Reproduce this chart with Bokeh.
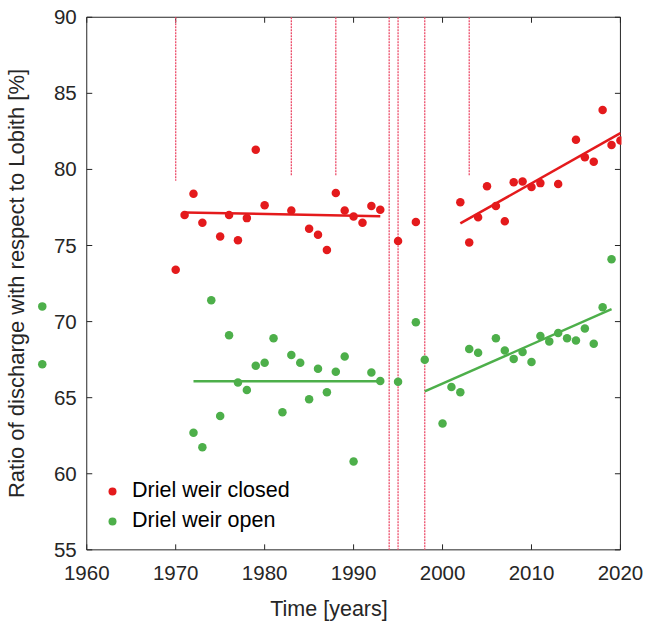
from bokeh.plotting import figure
from bokeh.models import LinearAxis, FixedTicker, Range1d, Legend, LegendItem
from bokeh.embed import file_html
from bokeh.resources import INLINE

# ---- data ----
closed_years = [1970, 1971, 1972, 1973, 1975, 1976, 1977, 1978, 1979, 1980, 1983, 1985, 1986, 1987,
                1988, 1989, 1990, 1991, 1992, 1993, 1995, 1997, 2002, 2003, 2004, 2005, 2006, 2007,
                2008, 2009, 2010, 2011, 2013, 2015, 2016, 2017, 2018, 2019, 2020]
closed_vals = [73.4, 77.0, 78.4, 76.5, 75.6, 77.0, 75.35, 76.8, 81.3, 77.65, 77.3, 76.1, 75.7, 74.7,
               78.45, 77.3, 76.9, 76.5, 77.6, 77.35, 75.3, 76.55, 77.85, 75.2, 76.85, 78.9, 77.6, 76.6,
               79.15, 79.2, 78.85, 79.1, 79.05, 81.95, 80.8, 80.5, 83.9, 81.6, 81.9]

open_years = [1955, 1955, 1972, 1973, 1974, 1975, 1976, 1977, 1978, 1979, 1980, 1981, 1982, 1983,
              1984, 1985, 1986, 1987, 1988, 1989, 1990, 1992, 1993, 1995, 1997, 1998, 2000, 2001,
              2002, 2003, 2004, 2006, 2007, 2008, 2009, 2010, 2011, 2012, 2013, 2014, 2015, 2016,
              2017, 2018, 2019]
open_vals = [71.0, 67.2, 62.7, 61.75, 71.4, 63.8, 69.1, 66.0, 65.5, 67.1, 67.3, 68.9, 64.05, 67.8,
             67.3, 64.9, 66.9, 65.35, 66.7, 67.7, 60.8, 66.65, 66.1, 66.05, 69.95, 67.5, 63.3, 65.7,
             65.35, 68.2, 67.95, 68.9, 68.1, 67.55, 68.0, 67.35, 69.05, 68.7, 69.25, 68.9, 68.75, 69.55,
             68.55, 70.95, 74.1]

closed_trend_years = [[1971, 1993], [2002, 2020]]
closed_trend_vals = [[77.17, 76.93], [76.45, 82.38]]
open_trend_years = [[1972, 1993], [1998, 2019]]
open_trend_vals = [[66.08, 66.08], [65.41, 70.82]]

event_years = [1970, 1983, 1988, 1994, 1995, 1998, 2003]
event_tops = [90, 90, 90, 90, 90, 90, 90]
event_bottoms = [79.25, 79.6, 79.6, 55, 55, 55, 79.6]

x_ticks = [1960, 1970, 1980, 1990, 2000, 2010, 2020]
y_ticks = [55, 60, 65, 70, 75, 80, 85, 90]

RED = "#e41a1c"
GREEN = "#4daf4a"
EVENT = "#ec4d6a"
AX = "#262626"
FONT = "Liberation Sans"

FW, FH = 585, 554
XR = (1954.35, 2020.12)
YR = (54.3, 90.707)

p = figure(frame_width=FW, frame_height=FH, x_range=Range1d(*XR), y_range=Range1d(*YR),
           output_backend="svg", toolbar_location=None,
           min_border_left=35, min_border_right=26, min_border_top=6, min_border_bottom=63)
p.outline_line_color = None
p.xgrid.visible = False
p.ygrid.visible = False
p.border_fill_color = None
p.background_fill_color = None

# ---- axes box and inward ticks (drawn through the data scales) ----
x0, x1 = x_ticks[0], x_ticks[-1]
y0, y1 = y_ticks[0], y_ticks[-1]
TICK = 5.5  # tick length in pixels
dx = TICK * (XR[1] - XR[0]) / FW
dy = TICK * (YR[1] - YR[0]) / FH
p.segment(x0=[x0, x0, x0, x1], y0=[y0, y1, y0, y0], x1=[x1, x1, x0, x1], y1=[y0, y1, y1, y1],
          line_color=AX, line_width=1)
p.segment(x0=x_ticks, y0=[y0] * len(x_ticks), x1=x_ticks, y1=[y0 + dy] * len(x_ticks),
          line_color=AX, line_width=1)
p.segment(x0=x_ticks, y0=[y1] * len(x_ticks), x1=x_ticks, y1=[y1 - dy] * len(x_ticks),
          line_color=AX, line_width=1)
p.segment(x0=[x0] * len(y_ticks), y0=y_ticks, x1=[x0 + dx] * len(y_ticks), y1=y_ticks,
          line_color=AX, line_width=1)
p.segment(x0=[x1] * len(y_ticks), y0=y_ticks, x1=[x1 - dx] * len(y_ticks), y1=y_ticks,
          line_color=AX, line_width=1)

# event lines
p.segment(x0=event_years, y0=event_tops, x1=event_years, y1=event_bottoms,
          line_color=EVENT, line_width=1.3, line_dash="2 1")

# trend lines
p.multi_line(xs=closed_trend_years, ys=closed_trend_vals, line_color=RED, line_width=2.5)
p.multi_line(xs=open_trend_years, ys=open_trend_vals, line_color=GREEN, line_width=2.5)

# points
p.scatter(closed_years, closed_vals, size=8.5, fill_color=RED, line_color=None)
p.scatter(open_years, open_vals, size=8.5, fill_color=GREEN, line_color=None)

# legend-only glyphs (not drawn in the plot)
nan = float("nan")
lr = p.scatter(x=[nan], y=[nan], size=5.5, fill_color=RED, line_color=None)
lg = p.scatter(x=[nan], y=[nan], size=5.5, fill_color=GREEN, line_color=None)
legend = Legend(items=[LegendItem(label="Driel weir closed", renderers=[lr]),
                       LegendItem(label="Driel weir open", renderers=[lg])],
                location=(66, 27), border_line_color=None, background_fill_alpha=0,
                padding=0, margin=0, spacing=5, glyph_width=20, glyph_height=20,
                label_standoff=10, label_text_font=FONT, label_text_font_size="21.5px",
                label_text_color="black")
p.add_layout(legend, "center")

def style(ax):
    ax.axis_line_color = None
    ax.major_tick_line_color = None
    ax.minor_tick_line_color = None
    ax.major_tick_in = 0
    ax.major_tick_out = 0
    ax.major_label_text_font = FONT
    ax.major_label_text_color = AX
    ax.major_label_text_font_size = "20.5px"

# bottom axis (labels)
xa = p.xaxis[0]
xa.ticker = FixedTicker(ticks=x_ticks)
style(xa)
xa.major_label_standoff = 5
xa.axis_label = "Time [years]"
xa.axis_label_text_font = FONT
xa.axis_label_text_font_size = "21.5px"
xa.axis_label_text_font_style = "normal"
xa.axis_label_text_color = AX
xa.axis_label_standoff = 14

# left axis labels at 1960
ya = p.yaxis[0]
ya.ticker = FixedTicker(ticks=y_ticks)
ya.fixed_location = x0
style(ya)
ya.major_label_standoff = 10

# label-only left axis
la = LinearAxis(ticker=FixedTicker(ticks=[]), axis_line_color=None,
                major_tick_line_color=None, minor_tick_line_color=None,
                major_label_text_color=None,
                axis_label="Ratio of discharge with respect to Lobith [%]",
                axis_label_text_font=FONT, axis_label_text_font_size="22px",
                axis_label_text_font_style="normal", axis_label_text_color=AX,
                axis_label_standoff=8)
p.add_layout(la, "left")

open("out.html", "w").write(file_html(p, INLINE))
